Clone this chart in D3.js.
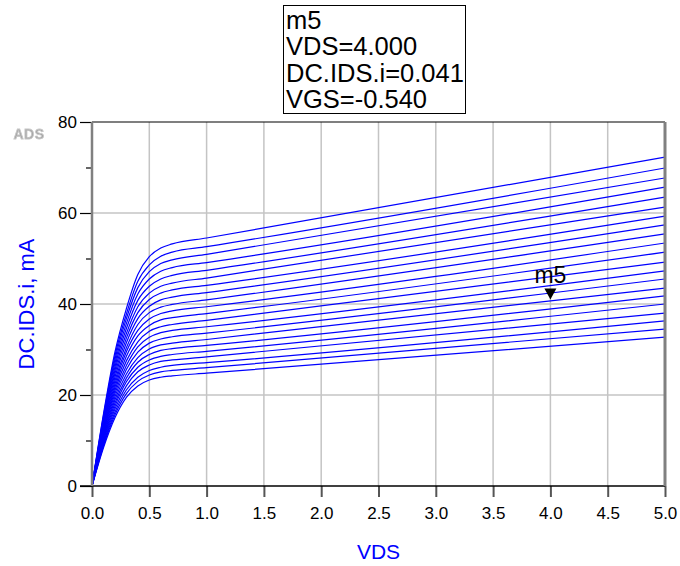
<!DOCTYPE html>
<html lang="en">
<head>
<meta charset="UTF-8">
<title>DC.IDS.i vs VDS</title>
<script src="https://cdn.jsdelivr.net/npm/d3@7"></script>
<style>
  body { margin: 0; background: #fff; }
  svg { display: block; font-family: "Liberation Sans", Arial, sans-serif; }
</style>
</head>
<body>
<div id="chart"></div>
<script>
// sweep points along VDS (V)
var vds = [0, 0.1, 0.2, 0.3, 0.4, 0.5, 0.6, 0.7, 1.0, 5.0];

// gate voltages of the 21 swept curves (lowest current first)
var vgs = [-0.84, -0.79, -0.74, -0.69, -0.64, -0.59, -0.54, -0.49, -0.44, -0.39, -0.34,
           -0.29, -0.24, -0.19, -0.14, -0.09, -0.04, 0.01, 0.06, 0.11, 0.16];

// DC.IDS.i in mA, one row per VGS at the vds points
var ids = [
  [0, 8.4, 15.0, 19.5, 22.0, 23.3, 23.9, 24.2, 24.8, 32.7],
  [0, 8.8, 15.6, 20.3, 23.0, 24.4, 25.1, 25.4, 26.0, 34.5],
  [0, 9.1, 16.2, 21.1, 23.9, 25.4, 26.1, 26.5, 27.1, 36.3],
  [0, 9.4, 16.9, 22.0, 25.1, 26.6, 27.4, 27.7, 28.4, 38.0],
  [0, 9.8, 17.5, 22.9, 26.1, 27.7, 28.5, 28.9, 29.6, 40.0],
  [0, 10.1, 18.2, 23.7, 27.2, 28.9, 29.8, 30.2, 30.9, 41.8],
  [0, 10.5, 18.9, 24.6, 28.2, 30.1, 31.0, 31.4, 32.2, 43.5],
  [0, 10.8, 19.6, 25.6, 29.4, 31.4, 32.3, 32.8, 33.6, 45.5],
  [0, 11.2, 20.3, 26.5, 30.6, 32.7, 33.7, 34.2, 35.0, 47.3],
  [0, 11.6, 21.0, 27.5, 31.7, 34.0, 35.0, 35.5, 36.4, 49.2],
  [0, 11.9, 21.7, 28.5, 33.0, 35.3, 36.5, 37.0, 37.9, 51.4],
  [0, 12.3, 22.4, 29.5, 34.2, 36.7, 37.9, 38.5, 39.4, 53.4],
  [0, 12.7, 23.1, 30.4, 35.5, 38.1, 39.3, 39.9, 40.9, 55.4],
  [0, 13.1, 23.9, 31.5, 36.8, 39.5, 40.9, 41.5, 42.5, 57.4],
  [0, 13.5, 24.7, 32.5, 38.1, 41.0, 42.4, 43.1, 44.1, 59.3],
  [0, 13.8, 25.4, 33.5, 39.4, 42.4, 43.9, 44.6, 45.7, 61.3],
  [0, 14.2, 26.2, 34.6, 40.8, 43.9, 45.5, 46.3, 47.4, 63.5],
  [0, 14.6, 27.0, 35.7, 42.2, 45.5, 47.2, 48.0, 49.1, 65.7],
  [0, 15.0, 27.8, 36.8, 43.6, 47.1, 48.9, 49.7, 50.9, 67.7],
  [0, 15.4, 28.6, 37.8, 45.0, 48.6, 50.5, 51.4, 52.6, 69.9],
  [0, 15.8, 29.4, 39.0, 46.5, 50.4, 52.3, 53.2, 54.5, 72.3]
];

var xTicks = [0, 0.5, 1, 1.5, 2, 2.5, 3, 3.5, 4, 4.5, 5];
var yTicks = [0, 20, 40, 60, 80];
var yMinor = [10, 30, 50, 70];

// marker m5
var marker = { name: "m5", vds: 4.0, ids: 41, vgs: -0.54 };
var markerLines = ["m5", "VDS=4.000", "DC.IDS.i=0.041", "VGS=-0.540"];

var w = 680, h = 566;
// plot box edges (window.top is reserved, so no "top" here)
var pLeft = 92, pRight = 665, pTop = 122, pBottom = 486;

var svg = d3.select("#chart").append("svg")
  .attr("width", w)
  .attr("height", h);

var x = d3.scaleLinear().domain([0, 5]).range([pLeft, pRight]);
var y = d3.scaleLinear().domain([0, 80]).range([pBottom, pTop]);

// grid
svg.append("g").selectAll("line")
  .data(xTicks.filter(function (d) { return d > 0 && d < 5; }))
  .enter().append("line")
  .attr("x1", function (d) { return x(d); })
  .attr("x2", function (d) { return x(d); })
  .attr("y1", pTop).attr("y2", pBottom)
  .attr("stroke", "#c4c4c4").attr("stroke-width", 1.5);

svg.append("g").selectAll("line")
  .data(yTicks.filter(function (d) { return d > 0 && d < 80; }))
  .enter().append("line")
  .attr("x1", pLeft).attr("x2", pRight)
  .attr("y1", function (d) { return y(d); })
  .attr("y2", function (d) { return y(d); })
  .attr("stroke", "#c4c4c4").attr("stroke-width", 1.5);

// curves
var line = d3.line()
  .x(function (d, i) { return x(vds[i]); })
  .y(function (d) { return y(d); })
  .curve(d3.curveMonotoneX);

svg.append("g").selectAll("path")
  .data(ids)
  .enter().append("path")
  .attr("d", line)
  .attr("fill", "none")
  .attr("stroke", "#0000ff")
  .attr("stroke-width", 1.2);

// x axis
var xAxis = svg.append("g")
  .attr("transform", "translate(0," + pBottom + ")")
  .call(d3.axisBottom(x).tickValues(xTicks).tickFormat(d3.format(".1f")).tickSize(11).tickPadding(10));
xAxis.select(".domain").remove();
xAxis.selectAll(".tick line").attr("stroke", "#555").attr("stroke-width", 2);
xAxis.selectAll(".tick text").attr("font-size", 17).attr("fill", "#000")
  .attr("font-family", "Liberation Sans, Arial, sans-serif");

// y axis
var yAxis = svg.append("g")
  .attr("transform", "translate(" + pLeft + ",0)")
  .call(d3.axisLeft(y).tickValues(yTicks).tickSize(12).tickPadding(3));
yAxis.select(".domain").remove();
yAxis.selectAll(".tick line").attr("stroke", "#000").attr("stroke-width", 1.2);
yAxis.selectAll(".tick text").attr("font-size", 17).attr("fill", "#000")
  .attr("font-family", "Liberation Sans, Arial, sans-serif");

var yAxisMinor = svg.append("g")
  .attr("transform", "translate(" + pLeft + ",0)")
  .call(d3.axisLeft(y).tickValues(yMinor).tickSize(6).tickFormat(""));
yAxisMinor.select(".domain").remove();
yAxisMinor.selectAll(".tick line").attr("stroke", "#000").attr("stroke-width", 1.2);

// frame
svg.append("line").attr("x1", pLeft).attr("x2", pRight).attr("y1", pTop).attr("y2", pTop)
  .attr("stroke", "#000").attr("stroke-width", 1.2);
svg.append("line").attr("x1", pLeft - 12).attr("x2", pRight).attr("y1", pBottom).attr("y2", pBottom)
  .attr("stroke", "#000").attr("stroke-width", 1.5);
svg.append("line").attr("x1", pLeft).attr("x2", pLeft).attr("y1", pTop).attr("y2", pBottom)
  .attr("stroke", "#808080").attr("stroke-width", 2.5);
svg.append("line").attr("x1", pRight).attr("x2", pRight).attr("y1", pTop).attr("y2", pBottom)
  .attr("stroke", "#808080").attr("stroke-width", 3);

// axis titles
svg.append("text")
  .attr("x", (pLeft + pRight) / 2).attr("y", 559)
  .attr("text-anchor", "middle")
  .attr("font-size", 21).attr("fill", "#0000ff")
  .text("VDS");

svg.append("text")
  .attr("transform", "translate(34," + ((pTop + pBottom) / 2) + ") rotate(-90)")
  .attr("text-anchor", "middle")
  .attr("font-size", 22).attr("fill", "#0000ff")
  .text("DC.IDS.i, mA");

// ADS logo
var defs = svg.append("defs");
defs.append("filter").attr("id", "soft")
  .append("feGaussianBlur").attr("stdDeviation", 0.6);
svg.append("text")
  .attr("x", 29).attr("y", 139)
  .attr("text-anchor", "middle")
  .attr("font-size", 14).attr("font-weight", "bold")
  .attr("letter-spacing", 0.5)
  .attr("fill", "#a8a8a8").attr("stroke", "#c8c8c8").attr("stroke-width", 0.8)
  .attr("filter", "url(#soft)")
  .text("ADS");

// marker
var mx = x(marker.vds), my = y(marker.ids);
svg.append("path")
  .attr("d", "M" + (mx - 6) + "," + (my - 11) + "L" + (mx + 6) + "," + (my - 11) + "L" + mx + "," + my + "Z")
  .attr("fill", "#000");
svg.append("text")
  .attr("x", mx).attr("y", my - 16)
  .attr("text-anchor", "middle")
  .attr("font-size", 23).attr("fill", "#000")
  .text(marker.name);

// marker readout box
svg.append("rect")
  .attr("x", 283.5).attr("y", 5.5).attr("width", 182).attr("height", 108)
  .attr("fill", "#fff").attr("stroke", "#000").attr("stroke-width", 1);
svg.append("g").selectAll("text")
  .data(markerLines)
  .enter().append("text")
  .attr("x", 286)
  .attr("y", function (d, i) { return 29 + i * 26.3; })
  .attr("font-size", 25.5).attr("fill", "#000")
  .text(function (d) { return d; });
</script>
</body>
</html>
